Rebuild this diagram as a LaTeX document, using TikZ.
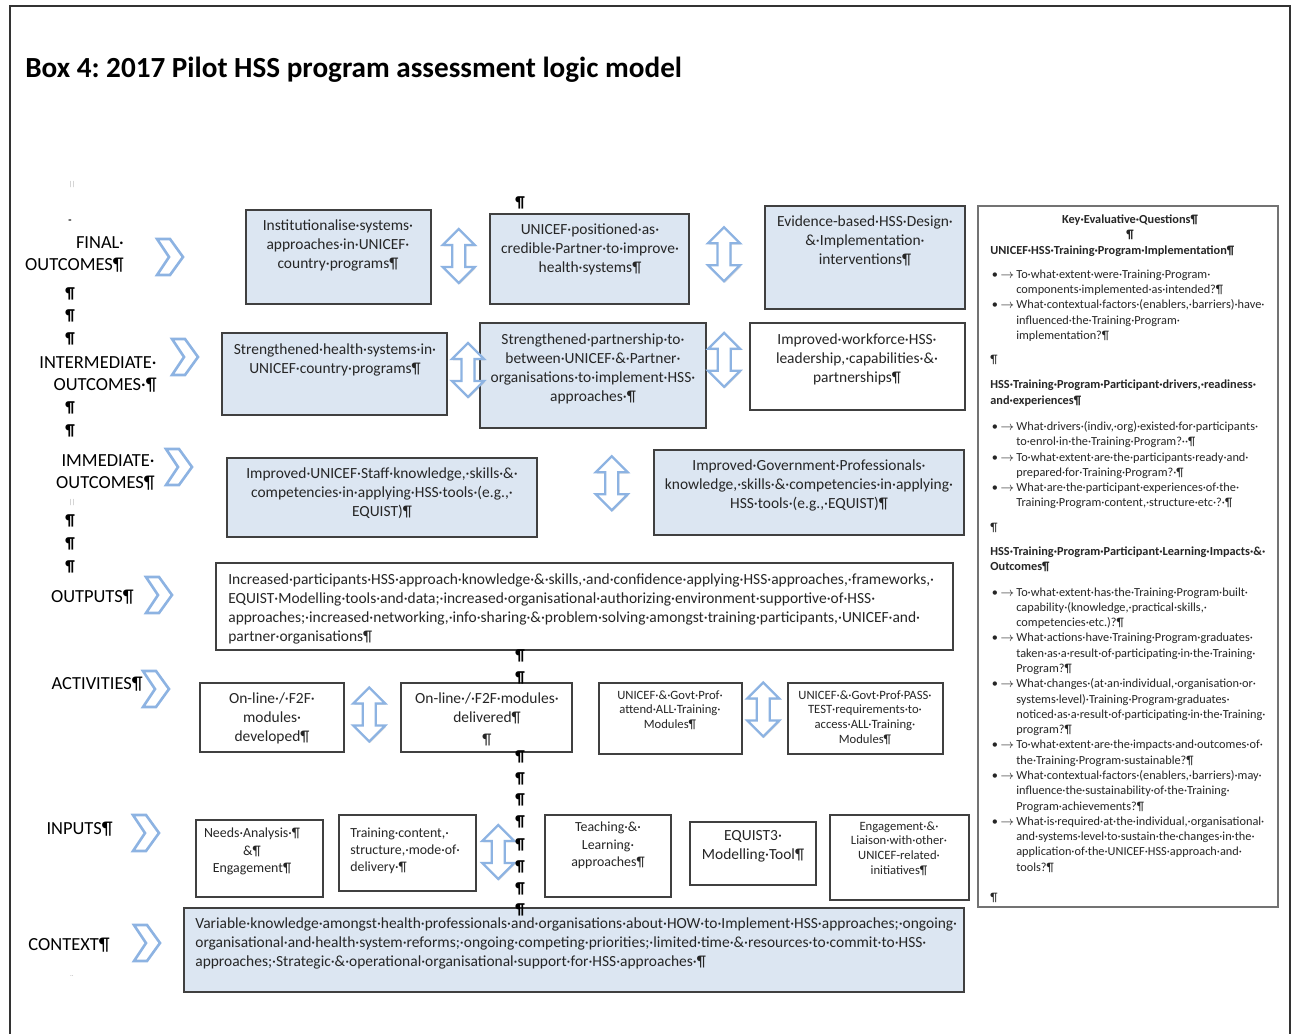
\documentclass[tikz,border=0pt]{standalone}
\usepackage{fontspec}
\setmainfont{Carlito}
\usetikzlibrary{
    calc,
    fit,
    shadows
}
\definecolor{boxblue}{HTML}{DCE6F2}
\definecolor{arrowblue}{HTML}{8DB3E2}
\newcommand{\boxfont}{\fontsize{8.8}{10.8}\selectfont}
\newcommand{\smallboxfont}{\fontsize{7.2}{8.5}\selectfont}
\newcommand{\inputfont}{\fontsize{7.9}{9.7}\selectfont}
\newcommand{\qfont}{\fontsize{7}{8.7}\selectfont}
\newcommand{\qb}{\makebox[0.52cm][l]{\hspace*{0.03cm}•\hspace{0.05cm}$\rightarrow$}}
\newcommand{\qi}{\hspace*{0.52cm}}
\tikzset {
    frame line/.style = {line width = 1pt, black!80},
    blue box/.style = {draw = black!75, line width = 0.7pt, fill = boxblue, inner sep = 0pt},
    white box/.style = {draw = black!75, line width = 0.7pt, fill = white, inner sep = 0pt},
    box text/.style = {anchor = north, inner sep = 0pt, align = center, text = black!85, font = \boxfont},
    left text/.style = {anchor = north west, inner sep = 0pt, align = left, text = black!85, font = \boxfont},
    level/.style = {anchor = north east, inner sep = 0pt, align = right, font = \fontsize{10.5}{12.5}\selectfont},
    pilcrow/.style = {inner sep = 0pt, font = \fontsize{9}{9}\selectfont\bfseries},
    faint/.style = {inner sep = 0pt, text = black!35, font = \fontsize{4}{4}\selectfont},
    %
    level chevron/.pic = {
        \draw [arrowblue, line width = 1.5pt, line join = miter]
        (0, 0) -- (13, 0) -- (26, 18) -- (13, 36) -- (0, 36) -- (12, 18) -- cycle;
    },
    updown/.pic = {
        \draw [arrowblue, fill = white, line width = 1.3pt,
            drop shadow = {opacity = 0.25, shadow xshift = 0.6pt, shadow yshift = -0.8pt}]
        (0, -27) -- (16, -11) -- (6.5, -11) -- (6.5, 11) -- (16, 11) -- (0, 27)
        -- (-16, 11) -- (-6.5, 11) -- (-6.5, -11) -- (-16, -11) -- cycle;
    }
}
\begin{document}
\frenchspacing
\begin{tikzpicture}[x = 0.02cm, y = -0.02cm]
        \useasboundingbox (0, 0) rectangle (1292, 1034);
        \draw [frame line] (10, 1040) -- (10, 6) -- (1290, 6) -- (1290, 1040);
        \node [anchor = base west, inner sep = 0pt, font = \fontsize{16.6}{19}\selectfont\bfseries] (title)
            at (25, 78) {Box 4: 2017 Pilot HSS program assessment logic model};
        % levels
        \node [level] (final) at (124, 236) {FINAL·\\OUTCOMES¶};
        \node [level] (inter) at (157, 356) {INTERMEDIATE·\\OUTCOMES·¶};
        \node [level] (immed) at (155, 454) {IMMEDIATE·\\OUTCOMES¶};
        \node [level] (outp) at (134, 590) {OUTPUTS¶};
        \node [level] (activ) at (143, 677) {ACTIVITIES¶};
        \node [level] (inp) at (113, 822) {INPUTS¶};
        \node [level] (ctx) at (110, 938) {CONTEXT¶};
        \pic (finalchev) at (157, 239) {level chevron};
        \pic (interchev) at (172, 339) {level chevron};
        \pic (immedchev) at (166, 449) {level chevron};
        \pic (outpchev) at (146, 577) {level chevron};
        \pic (activchev) at (143, 671) {level chevron};
        \pic (inpchev) at (133, 815) {level chevron};
        \pic (ctxchev) at (134, 925) {level chevron};
        \foreach \y in {294, 316, 339, 408, 431, 521, 544, 567}
            \node [pilcrow] (pl\y) at (70, \y) {¶};
        \node [faint] (m1) at (72, 185) {||};
        \node [faint] (m2) at (72, 503) {||};
        \node [faint] (m3) at (72, 976) {..};
        \node [inner sep = 0pt, font = \fontsize{6}{6}\selectfont\bfseries] (m4) at (70, 222) {-};
        % boxes
        \node [blue box, fit = {(246, 210) (431, 304)}] (fo1) {};
        \node [blue box, fit = {(490, 214) (689, 304)}] (fo2) {};
        \node [blue box, fit = {(765, 206) (965, 309)}] (fo3) {};
        \node [blue box, fit = {(222, 333) (447, 415)}] (io1) {};
        \node [blue box, fit = {(480, 323) (706, 428)}] (io2) {};
        \node [white box, fit = {(750, 323) (965, 410)}] (io3) {};
        \node [blue box, fit = {(227, 458) (537, 537)}] (im1) {};
        \node [blue box, fit = {(654, 450) (964, 535)}] (im2) {};
        \node [white box, fit = {(216, 563) (953, 650)}] (out) {};
        \node [white box, fit = {(200, 683) (344, 752)}] (ac1) {};
        \node [white box, fit = {(401, 683) (572, 752)}] (ac2) {};
        \node [white box, fit = {(599, 683) (742, 754)}] (ac3) {};
        \node [white box, fit = {(788, 683) (943, 754)}] (ac4) {};
        \node [white box, fit = {(196, 820) (323, 897)}] (in1) {};
        \node [white box, fit = {(339, 815) (476, 891)}] (in2) {};
        \node [white box, fit = {(545, 815) (671, 897)}] (in3) {};
        \node [white box, fit = {(690, 822) (816, 885)}] (in4) {};
        \node [white box, fit = {(830, 815) (969, 900)}] (in5) {};
        \node [blue box, fit = {(184, 908) (964, 992)}] (ctxbox) {};
        \node [white box, draw = black!55, fit = {(978, 206) (1278, 907)}] (kq) {};
        % arrows between boxes
        \pic at ($(fo1.east)!0.47!(fo2.west) + (0, -2)$) {updown};
        \pic at ($(fo2.east)!0.46!(fo3.west) + (0, -4)$) {updown};
        \pic at ($(io1.east)!0.64!(io2.west) + (0, -5)$) {updown};
        \pic at ($(io2.east)!0.41!(io3.west) + (0, -12)$) {updown};
        \pic at ($(im1.east)!0.64!(im2.west) + (0, -11)$) {updown};
        \pic at ($(ac1.east)!0.44!(ac2.west) + (0, -3)$) {updown};
        \pic at ($(ac3.east)!0.46!(ac4.west) + (0, -9)$) {updown};
        \pic at ($(in2.east)!0.32!(in3.west) + (0, -2)$) {updown};
        % texts
        \node [box text] (fo1t) at (338, 219) {Institutionalise·systems·\\approaches·in·UNICEF·\\country·programs¶};
        \node [box text] (fo2t) at (590, 223) {UNICEF·positioned·as·\\credible·Partner·to·improve·\\health·systems¶};
        \node [box text] (fo3t) at (865, 215) {Evidence-based·HSS·Design·\\\&·Implementation·\\interventions¶};
        \node [box text] (io1t) at (335, 343) {Strengthened·health·systems·in·\\UNICEF·country·programs¶};
        \node [box text] (io2t) at (593, 333) {Strengthened·partnership·to·\\between·UNICEF·\&·Partner·\\organisations·to·implement·HSS·\\approaches·¶};
        \node [box text] (io3t) at (857, 333) {Improved·workforce·HSS·\\leadership,·capabilities·\&·\\partnerships¶};
        \node [box text] (im1t) at (382, 467) {Improved·UNICEF·Staff·knowledge,·skills·\&·\\competencies·in·applying·HSS·tools·(e.g.,·\\EQUIST)¶};
        \node [box text] (im2t) at (809, 459) {Improved·Government·Professionals·\\knowledge,·skills·\&·competencies·in·applying·\\HSS·tools·(e.g.,·EQUIST)¶};
        \node [left text] (outt) at (228, 573) {Increased·participants·HSS·approach·knowledge·\&·skills,·and·confidence·applying·HSS·approaches,·frameworks,·\\EQUIST·Modelling·tools·and·data;·increased·organisational·authorizing·environment·supportive·of·HSS·\\approaches;·increased·networking,·info·sharing·\&·problem·solving·amongst·training·participants,·UNICEF·and·\\partner·organisations¶};
        \node [box text] (ac1t) at (272, 692) {On-line·/·F2F·\\modules·\\developed¶};
        \node [box text] (ac2t) at (487, 692) {On-line·/·F2F·modules·\\delivered¶\\[0.06cm]¶};
        \node [box text, font = \smallboxfont] (ac3t) at (670, 690) {UNICEF·\&·Govt·Prof·\\attend·ALL·Training·\\Modules¶};
        \node [box text, font = \smallboxfont] (ac4t) at (865, 690) {UNICEF·\&·Govt·Prof·PASS·\\TEST·requirements·to·\\access·ALL·Training·\\Modules¶};
        \node [box text, font = \inputfont] (in1t) at (252, 828) {Needs·Analysis·¶\\\&¶\\Engagement¶};
        \node [left text, font = \inputfont] (in2t) at (350, 828) {Training·content,·\\structure,·mode·of·\\delivery·¶};
        \node [box text, font = \inputfont] (in3t) at (608, 822) {Teaching·\&·\\Learning·\\approaches¶};
        \node [box text] (in4t) at (753, 830) {EQUIST3·\\Modelling·Tool¶};
        \node [box text, font = \smallboxfont] (in5t) at (899, 821) {Engagement·\&·\\Liaison·with·other·\\UNICEF-related·\\initiatives¶};
        \node [left text] (ctxt) at (195, 917) {Variable·knowledge·amongst·health·professionals·and·organisations·about·HOW·to·Implement·HSS·approaches;·ongoing·\\organisational·and·health·system·reforms;·ongoing·competing·priorities;·limited·time·\&·resources·to·commit·to·HSS·\\approaches;·Strategic·\&·operational·organisational·support·for·HSS·approaches·¶};
        % key questions
        \node [box text, font = \qfont\bfseries] (kqhead) at (1130, 214) {Key·Evaluative·Questions¶\\¶};
        \node [left text, font = \qfont] (kqbody) at (990, 245) {%
            \textbf{UNICEF·HSS·Training·Program·Implementation¶}\\[0.18cm]
            \qb To·what·extent·were·Training·Program·\\
            \qi components·implemented·as·intended?¶\\
            \qb What·contextual·factors·(enablers,·barriers)·have·\\
            \qi influenced·the·Training·Program·\\
            \qi implementation?¶\\[0.18cm]
            ¶\\[0.2cm]
            \textbf{HSS·Training·Program·Participant·drivers,·readiness·}\\
            \textbf{and·experiences¶}\\[0.22cm]
            \qb What·drivers·(indiv,·org)·existed·for·participants·\\
            \qi to·enrol·in·the·Training·Program?··¶\\
            \qb To·what·extent·are·the·participants·ready·and·\\
            \qi prepared·for·Training·Program?·¶\\
            \qb What·are·the·participant·experiences·of·the·\\
            \qi Training·Program·content,·structure·etc·?·¶\\[0.18cm]
            ¶\\[0.18cm]
            \textbf{HSS·Training·Program·Participant·Learning·Impacts·\&·}\\
            \textbf{Outcomes¶}\\[0.2cm]
            \qb To·what·extent·has·the·Training·Program·built·\\
            \qi capability·(knowledge,·practical·skills,·\\
            \qi competencies·etc.)?¶\\
            \qb What·actions·have·Training·Program·graduates·\\
            \qi taken·as·a·result·of·participating·in·the·Training·\\
            \qi Program?¶\\
            \qb What·changes·(at·an·individual,·organisation·or·\\
            \qi systems·level)·Training·Program·graduates·\\
            \qi noticed·as·a·result·of·participating·in·the·Training·\\
            \qi program?¶\\
            \qb To·what·extent·are·the·impacts·and·outcomes·of·\\
            \qi the·Training·Program·sustainable?¶\\
            \qb What·contextual·factors·(enablers,·barriers)·may·\\
            \qi influence·the·sustainability·of·the·Training·\\
            \qi Program·achievements?¶\\
            \qb What·is·required·at·the·individual,·organisational·\\
            \qi and·systems·level·to·sustain·the·changes·in·the·\\
            \qi application·of·the·UNICEF·HSS·approach·and·\\
            \qi tools?¶\\[0.3cm]
            ¶};
        % paragraph marks down the middle
        \foreach \y in {203, 656, 678, 757, 779, 800, 822, 845, 867, 889, 910}
            \node [pilcrow] (pc\y) at (520, \y) {¶};
    \end{tikzpicture}
\end{document}
